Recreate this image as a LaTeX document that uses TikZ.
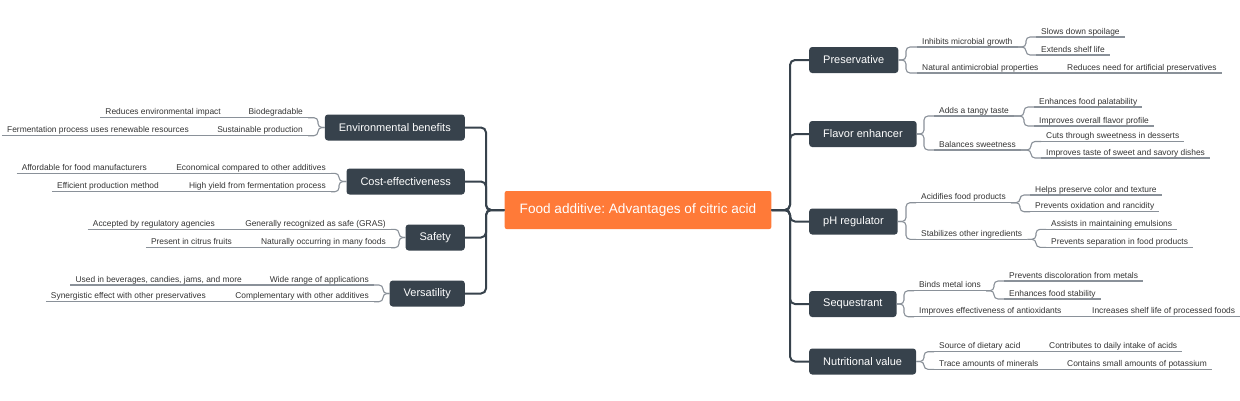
\documentclass[tikz,border=0pt]{standalone}
\usepackage{fontspec}
\setmainfont{Liberation Sans}
\usepackage{tikz}
\usetikzlibrary{positioning}
\definecolor{rootc}{HTML}{FF7A38}
\definecolor{topicc}{HTML}{37424C}
\definecolor{linec}{HTML}{8A9199}
\definecolor{leaftext}{HTML}{333333}
\frenchspacing

\begin{document}
\begin{tikzpicture}[x=1pt,y=-1pt,
  root/.style={fill=rootc,text=white,rounded corners=2pt,inner xsep=15pt,minimum height=38pt,font=\fontsize{13.6}{16}\selectfont},
  topic/.style={fill=topicc,text=white,rounded corners=3pt,inner xsep=14pt,minimum height=26pt,font=\fontsize{11}{13}\selectfont},
  leaf/.style={text=leaftext,inner xsep=5pt,inner ysep=0.6pt,text depth=2pt,font=\fontsize{8.4}{10}\selectfont,
    append after command={(\tikzlastnode.south west) edge[branch] (\tikzlastnode.south east)}},
  rleaf/.style={leaf,anchor=south west},
  lleaf/.style={leaf,anchor=south east},
  spine/.style={draw=topicc,line width=2pt,rounded corners=5pt},
  branch/.style={draw=linec,line width=1.1pt,rounded corners=4pt}]
\useasboundingbox (0,0) rectangle (1240,400);
\node[root] (root) at (638,210) {Food additive: Advantages of citric acid};
%%%%%%%%%%%%%%%%
\node[topic,anchor=west] (pres) at (809,60) {Preservative};
\node[rleaf] (p1) at (917,47) {Inhibits microbial growth};
\node[rleaf] (p1a) at (1036,37) {Slows down spoilage};
\node[rleaf] (p1b) at (1036,55) {Extends shelf life};
\node[rleaf] (p2) at (917,73) {Natural antimicrobial properties};
\node[rleaf] (p2a) at (1062,73) {Reduces need for artificial preservatives};
\draw[spine] (pres.west) -- ++(-19,0) |- (root.east);
\draw[branch] (p1.south west) -- ++(-11,0) |- (pres.east);
\draw[branch] (p2.south west) -- ++(-11,0) |- (pres.east);
\draw[branch] (p1a.south west) -- ++(-10,0) |- (p1.south east);
\draw[branch] (p1b.south west) -- ++(-10,0) |- (p1.south east);
\draw[branch] (p2.south east) -- (p2a.south west);
%%%%%%%%%%%%%%%%
\node[topic,anchor=west] (flav) at (809,134) {Flavor enhancer};
\node[rleaf] (f1) at (934,116) {Adds a tangy taste};
\node[rleaf] (f1a) at (1034,107) {Enhances food palatability};
\node[rleaf] (f1b) at (1034,126) {Improves overall flavor profile};
\node[rleaf] (f2) at (934,150) {Balances sweetness};
\node[rleaf] (f2a) at (1041,141.5) {Cuts through sweetness in desserts};
\node[rleaf] (f2b) at (1041,158) {Improves taste of sweet and savory dishes};
\draw[spine] (flav.west) -- ++(-19,0) |- (root.east);
\draw[branch] (f1.south west) -- ++(-10,0) |- (flav.east);
\draw[branch] (f2.south west) -- ++(-10,0) |- (flav.east);
\draw[branch] (f1a.south west) -- ++(-10,0) |- (f1.south east);
\draw[branch] (f1b.south west) -- ++(-10,0) |- (f1.south east);
\draw[branch] (f2a.south west) -- ++(-10,0) |- (f2.south east);
\draw[branch] (f2b.south west) -- ++(-10,0) |- (f2.south east);
%%%%%%%%%%%%%%%%
\node[topic,anchor=west] (ph) at (809,221.5) {pH regulator};
\node[rleaf] (h1) at (916,202.7) {Acidifies food products};
\node[rleaf] (h1a) at (1030,195) {Helps preserve color and texture};
\node[rleaf] (h1b) at (1030,211.7) {Prevents oxidation and rancidity};
\node[rleaf] (h2) at (916,239.3) {Stabilizes other ingredients};
\node[rleaf] (h2a) at (1046,229.3) {Assists in maintaining emulsions};
\node[rleaf] (h2b) at (1046,247.3) {Prevents separation in food products};
\draw[spine] (ph.west) -- ++(-19,0) |- (root.east);
\draw[branch] (h1.south west) -- ++(-10,0) |- (ph.east);
\draw[branch] (h2.south west) -- ++(-10,0) |- (ph.east);
\draw[branch] (h1a.south west) -- ++(-10,0) |- (h1.south east);
\draw[branch] (h1b.south west) -- ++(-10,0) |- (h1.south east);
\draw[branch] (h2a.south west) -- ++(-10,0) |- (h2.south east);
\draw[branch] (h2b.south west) -- ++(-10,0) |- (h2.south east);
%%%%%%%%%%%%%%%%
\node[topic,anchor=west] (seq) at (809,304) {Sequestrant};
\node[rleaf] (s1) at (914,290.7) {Binds metal ions};
\node[rleaf] (s1a) at (1004,281) {Prevents discoloration from metals};
\node[rleaf] (s1b) at (1004,299) {Enhances food stability};
\node[rleaf] (s2) at (914,316.7) {Improves effectiveness of antioxidants};
\node[rleaf] (s2a) at (1087,316.7) {Increases shelf life of processed foods};
\draw[spine] (seq.west) -- ++(-19,0) |- (root.east);
\draw[branch] (s1.south west) -- ++(-10,0) |- (seq.east);
\draw[branch] (s2.south west) -- ++(-10,0) |- (seq.east);
\draw[branch] (s1a.south west) -- ++(-10,0) |- (s1.south east);
\draw[branch] (s1b.south west) -- ++(-10,0) |- (s1.south east);
\draw[branch] (s2.south east) -- (s2a.south west);
%%%%%%%%%%%%%%%%
\node[topic,anchor=west] (nutr) at (809,361.5) {Nutritional value};
\node[rleaf] (n1) at (934,351.7) {Source of dietary acid};
\node[rleaf] (n1a) at (1044,351.7) {Contributes to daily intake of acids};
\node[rleaf] (n2) at (934,369.3) {Trace amounts of minerals};
\node[rleaf] (n2a) at (1062,369.3) {Contains small amounts of potassium};
\draw[spine] (nutr.west) -- ++(-19,0) |- (root.east);
\draw[branch] (n1.south west) -- ++(-10,0) |- (nutr.east);
\draw[branch] (n2.south west) -- ++(-10,0) |- (nutr.east);
\draw[branch] (n1.south east) -- (n1a.south west);
\draw[branch] (n2.south east) -- (n2a.south west);
%%%%%%%%%%%%%%%%
\node[topic,anchor=east] (env) at (465,127.5) {Environmental benefits};
\node[lleaf] (e1) at (308,117.7) {Biodegradable};
\node[lleaf] (e1a) at (226,117.7) {Reduces environmental impact};
\node[lleaf] (e2) at (308,135.7) {Sustainable production};
\node[lleaf] (e2a) at (194,135.7) {Fermentation process uses renewable resources};
\draw[spine] (env.east) -- ++(21,0) |- (root.west);
\draw[branch] (e1.south east) -- ++(10,0) |- (env.west);
\draw[branch] (e2.south east) -- ++(10,0) |- (env.west);
\draw[branch] (e1.south west) -- (e1a.south east);
\draw[branch] (e2.south west) -- (e2a.south east);
%%%%%%%%%%%%%%%%
\node[topic,anchor=east] (cost) at (465,181.5) {Cost-effectiveness};
\node[lleaf] (c1) at (331,173.3) {Economical compared to other additives};
\node[lleaf] (c1a) at (152,173.3) {Affordable for food manufacturers};
\node[lleaf] (c2) at (331,191.7) {High yield from fermentation process};
\node[lleaf] (c2a) at (164,191.7) {Efficient production method};
\draw[spine] (cost.east) -- ++(21,0) |- (root.west);
\draw[branch] (c1.south east) -- ++(8,0) |- (cost.west);
\draw[branch] (c2.south east) -- ++(8,0) |- (cost.west);
\draw[branch] (c1.south west) -- (c1a.south east);
\draw[branch] (c2.south west) -- (c2a.south east);
%%%%%%%%%%%%%%%%
\node[topic,anchor=east] (safe) at (465,237.5) {Safety};
\node[lleaf] (sa1) at (391,229.3) {Generally recognized as safe (GRAS)};
\node[lleaf] (sa1a) at (220,229.3) {Accepted by regulatory agencies};
\node[lleaf] (sa2) at (391,247.7) {Naturally occurring in many foods};
\node[lleaf] (sa2a) at (237,247.7) {Present in citrus fruits};
\draw[spine] (safe.east) -- ++(21,0) |- (root.west);
\draw[branch] (sa1.south east) -- ++(8,0) |- (safe.west);
\draw[branch] (sa2.south east) -- ++(8,0) |- (safe.west);
\draw[branch] (sa1.south west) -- (sa1a.south east);
\draw[branch] (sa2.south west) -- (sa2a.south east);
%%%%%%%%%%%%%%%%
\node[topic,anchor=east] (vers) at (465,293.5) {Versatility};
\node[lleaf] (v1) at (374,285) {Wide range of applications};
\node[lleaf] (v1a) at (247,285) {Used in beverages, candies, jams, and more};
\node[lleaf] (v2) at (374,301.7) {Complementary with other additives};
\node[lleaf] (v2a) at (211,301.7) {Synergistic effect with other preservatives};
\draw[spine] (vers.east) -- ++(21,0) |- (root.west);
\draw[branch] (v1.south east) -- ++(9,0) |- (vers.west);
\draw[branch] (v2.south east) -- ++(9,0) |- (vers.west);
\draw[branch] (v1.south west) -- (v1a.south east);
\draw[branch] (v2.south west) -- (v2a.south east);
\end{tikzpicture}
\end{document}
